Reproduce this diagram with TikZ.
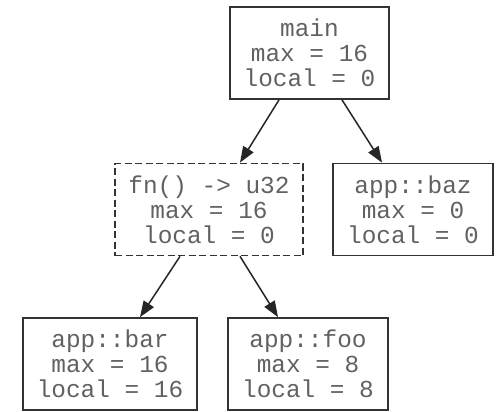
\documentclass[tikz,border=0pt]{standalone}
\usepackage{fontspec}
\setmonofont{Liberation Mono}
\usetikzlibrary{arrows.meta}
\tikzset{
  fbox/.style={draw=black!80, line width=1.7pt, rectangle, align=center,
    inner xsep=13pt, minimum height=92pt, text=black!62,
    font={\ttfamily\fontsize{24.4}{25}\selectfont}},
  dbox/.style={fbox, dash pattern=on 7pt off 3.5pt},
  edge/.style={draw=black!85, line width=1.5pt, -{Triangle[length=16pt,width=12pt]}}
}
\begin{document}
\begin{tikzpicture}[x=1pt,y=1pt]
\useasboundingbox (0,0) rectangle (498,-412);
\node[fbox, minimum width=159pt] (main) at (309.5,-53) {main\\max = 16\\local = 0};
\node[dbox, minimum width=188pt] (fn) at (209,-209.5) {fn() -> u32\\max = 16\\local = 0};
\node[fbox, minimum width=160pt] (baz) at (413,-209.5) {app::baz\\max = 0\\local = 0};
\node[fbox, minimum width=174pt] (bar) at (110,-364) {app::bar\\max = 16\\local = 16};
\node[fbox, minimum width=160pt] (foo) at (308,-364) {app::foo\\max = 8\\local = 8};
\draw[edge] ([xshift=-30.5pt]main.south) -- ([xshift=31pt]fn.north);
\draw[edge] ([xshift=32.5pt]main.south) -- ([xshift=-31pt]baz.north);
\draw[edge] ([xshift=-29pt]fn.south) -- ([xshift=30pt]bar.north);
\draw[edge] ([xshift=31pt]fn.south) -- ([xshift=-30pt]foo.north);
\end{tikzpicture}
\end{document}
